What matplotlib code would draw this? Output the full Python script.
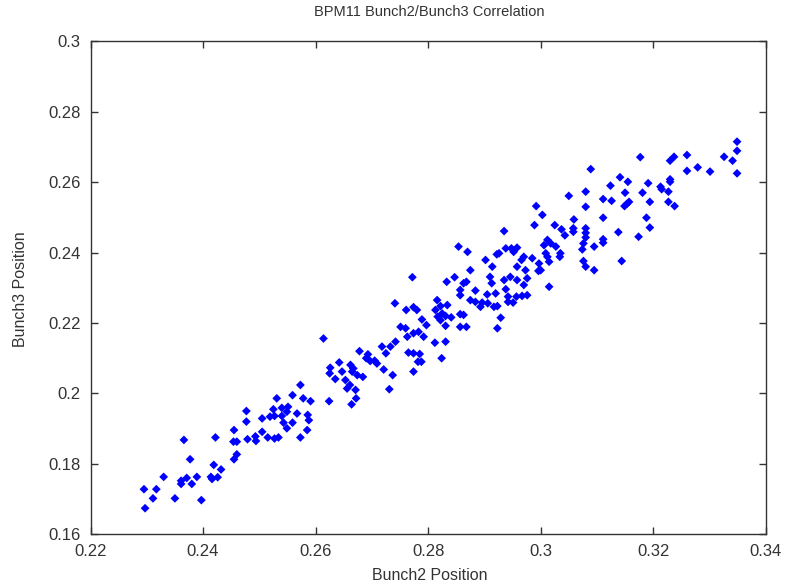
import matplotlib
matplotlib.use("Agg")
import matplotlib.pyplot as plt

# BPM11 bunch positions
bunch2_low = [0.2573, 0.2531, 0.2559, 0.2578, 0.2591, 0.2624, 0.2477, 0.2525, 0.2540, 0.2551,
              0.2549, 0.2567, 0.2586, 0.2477, 0.2505, 0.2519, 0.2527, 0.2540, 0.2543, 0.2559,
              0.2588, 0.2549, 0.2505, 0.2455, 0.2585, 0.2366, 0.2422, 0.2454, 0.2460, 0.2479,
              0.2494, 0.2515, 0.2527, 0.2534, 0.2573, 0.2460, 0.2455, 0.2377, 0.2419, 0.2432,
              0.2330, 0.2361, 0.2371, 0.2389, 0.2361, 0.2380, 0.2414, 0.2416, 0.2426, 0.2295,
              0.2317, 0.2311, 0.2350, 0.2397, 0.2297, 0.2493]
bunch3_low = [0.2024, 0.1986, 0.1995, 0.1986, 0.1978, 0.1978, 0.1950, 0.1955, 0.1959, 0.1962,
              0.1948, 0.1943, 0.1939, 0.1920, 0.1929, 0.1934, 0.1936, 0.1936, 0.1917, 0.1917,
              0.1924, 0.1901, 0.1891, 0.1896, 0.1896, 0.1868, 0.1875, 0.1863, 0.1863, 0.1870,
              0.1865, 0.1875, 0.1872, 0.1875, 0.1875, 0.1827, 0.1813, 0.1813, 0.1797, 0.1784,
              0.1763, 0.1752, 0.1760, 0.1763, 0.1743, 0.1743, 0.1763, 0.1757, 0.1762, 0.1728,
              0.1728, 0.1702, 0.1702, 0.1697, 0.1674, 0.1878]

bunch2_mid = [0.2614, 0.2678, 0.2693, 0.2690, 0.2705, 0.2709, 0.2697, 0.2642, 0.2626, 0.2662,
              0.2667, 0.2665, 0.2647, 0.2625, 0.2635, 0.2653, 0.2674, 0.2684, 0.2661, 0.2671,
              0.2656, 0.2672, 0.2664]
bunch3_mid = [0.2156, 0.2120, 0.2111, 0.2100, 0.2093, 0.2085, 0.2092, 0.2088, 0.2073, 0.2081,
              0.2071, 0.2062, 0.2062, 0.2057, 0.2041, 0.2038, 0.2052, 0.2047, 0.2024, 0.2010,
              0.2014, 0.1986, 0.1969]

bunch2_upper = [0.2992, 0.2989, 0.2935, 0.2854, 0.2870, 0.2938, 0.2948, 0.2958, 0.2952, 0.2926,
                0.2922, 0.2970, 0.2966, 0.2985, 0.2902, 0.2997, 0.2996, 0.2914, 0.2958, 0.2875,
                0.2973, 0.2910, 0.2935, 0.2946, 0.2958, 0.2976, 0.2772, 0.2847, 0.2833, 0.2868,
                0.2863, 0.2913, 0.2970, 0.2938, 0.2857, 0.2884, 0.2905, 0.2920, 0.2857, 0.2957,
                0.2967, 0.2976, 0.2942, 0.2875, 0.2884, 0.2896, 0.2906, 0.2942, 0.2951, 0.2741,
                0.2816, 0.2822, 0.2834, 0.2893, 0.2917, 0.2923, 0.2761, 0.2774, 0.2780, 0.2813,
                0.2825, 0.2857, 0.2863, 0.2817, 0.2831, 0.2841, 0.2789, 0.2929, 0.2822, 0.2831,
                0.2857, 0.2868, 0.2751, 0.2760, 0.2797, 0.2923, 0.2774, 0.2783, 0.2792, 0.2763,
                0.2742, 0.2733, 0.2718, 0.2812, 0.2831, 0.2725, 0.2765, 0.2774, 0.2785, 0.2782,
                0.2788, 0.2824, 0.2721, 0.2774, 0.2737, 0.2731]
bunch3_upper = [0.2532, 0.2478, 0.2461, 0.2417, 0.2402, 0.2412, 0.2412, 0.2414, 0.2402, 0.2398,
                0.2395, 0.2388, 0.2379, 0.2384, 0.2379, 0.2369, 0.2348, 0.2360, 0.2360, 0.2350,
                0.2350, 0.2331, 0.2322, 0.2331, 0.2322, 0.2327, 0.2330, 0.2330, 0.2317, 0.2317,
                0.2313, 0.2313, 0.2308, 0.2296, 0.2294, 0.2292, 0.2281, 0.2284, 0.2279, 0.2275,
                0.2277, 0.2279, 0.2275, 0.2265, 0.2260, 0.2258, 0.2256, 0.2260, 0.2258, 0.2256,
                0.2265, 0.2248, 0.2251, 0.2246, 0.2246, 0.2248, 0.2237, 0.2245, 0.2237, 0.2237,
                0.2227, 0.2225, 0.2223, 0.2218, 0.2220, 0.2216, 0.2210, 0.2215, 0.2208, 0.2192,
                0.2189, 0.2189, 0.2189, 0.2185, 0.2194, 0.2185, 0.2171, 0.2175, 0.2161, 0.2161,
                0.2147, 0.2133, 0.2133, 0.2144, 0.2147, 0.2114, 0.2116, 0.2114, 0.2112, 0.2090,
                0.2090, 0.2100, 0.2068, 0.2062, 0.2052, 0.2012]

bunch2_high = [0.3349, 0.3349, 0.3326, 0.3341, 0.3349, 0.3260, 0.3237, 0.3230, 0.3279, 0.3301,
               0.3260, 0.3177, 0.3089, 0.3141, 0.3155, 0.3124, 0.3191, 0.3230, 0.3230, 0.3213,
               0.3215, 0.3227, 0.3080, 0.3050, 0.3150, 0.3181, 0.3111, 0.3126, 0.3157, 0.3153,
               0.3149, 0.3194, 0.3227, 0.3238, 0.3080, 0.3003, 0.3111, 0.3188, 0.3059, 0.3025,
               0.3037, 0.3058, 0.3058, 0.3080, 0.3080, 0.3080, 0.3043, 0.3194, 0.3138, 0.3174,
               0.3111, 0.3111, 0.3012, 0.3018, 0.3076, 0.3027, 0.3095, 0.3006, 0.3074, 0.3009,
               0.3012, 0.3035, 0.3034, 0.3015, 0.3076, 0.3080, 0.3095, 0.3144, 0.3000, 0.3015]
bunch3_high = [0.2715, 0.2689, 0.2672, 0.2661, 0.2625, 0.2677, 0.2672, 0.2661, 0.2642, 0.2630,
               0.2632, 0.2671, 0.2637, 0.2614, 0.2601, 0.2590, 0.2597, 0.2608, 0.2601, 0.2587,
               0.2580, 0.2573, 0.2573, 0.2561, 0.2570, 0.2570, 0.2552, 0.2547, 0.2544, 0.2538,
               0.2532, 0.2544, 0.2544, 0.2532, 0.2530, 0.2507, 0.2499, 0.2499, 0.2494, 0.2478,
               0.2466, 0.2469, 0.2459, 0.2469, 0.2456, 0.2443, 0.2449, 0.2471, 0.2458, 0.2445,
               0.2438, 0.2428, 0.2436, 0.2426, 0.2426, 0.2417, 0.2417, 0.2421, 0.2409, 0.2398,
               0.2388, 0.2398, 0.2388, 0.2374, 0.2376, 0.2360, 0.2350, 0.2376, 0.2350, 0.2303]

xticks = [0.22, 0.24, 0.26, 0.28, 0.30, 0.32, 0.34]
yticks = [0.16, 0.18, 0.20, 0.22, 0.24, 0.26, 0.28, 0.30]

bunch2 = bunch2_low + bunch2_mid + bunch2_upper + bunch2_high
bunch3 = bunch3_low + bunch3_mid + bunch3_upper + bunch3_high

plt.rcParams['font.family'] = ['Liberation Sans', 'DejaVu Sans']

fig = plt.figure(figsize=(7.87, 5.85), dpi=100)
ax = fig.add_axes([0.115, 0.0867, 0.858, 0.8427])

ax.scatter(bunch2, bunch3, marker='D', s=20, color='#0000ff', edgecolors='none')

ax.set_xlim(0.22, 0.34)
ax.set_ylim(0.16, 0.30)
ax.set_xticks(xticks)
ax.set_yticks(yticks)
ax.set_xticklabels([f'{t:g}' for t in xticks])
ax.set_yticklabels([f'{t:g}' for t in yticks])
ax.tick_params(direction='in', top=True, right=True, length=5, width=1,
               labelsize=12, colors='#333333', pad=7)
for sp in ax.spines.values():
    sp.set_color('#333333')
    sp.set_linewidth(1)

fig.text(0.546, 0.979, 'BPM11 Bunch2/Bunch3 Correlation', ha='center', va='center',
         fontsize=10.5, color='#333333')
fig.text(0.546, 0.016, 'Bunch2 Position', ha='center', va='center', fontsize=11.5, color='#333333')
fig.text(0.026, 0.505, 'Bunch3 Position', ha='center', va='center', rotation=90,
         fontsize=11.5, color='#333333')

fig.savefig('out.png', dpi=100)
